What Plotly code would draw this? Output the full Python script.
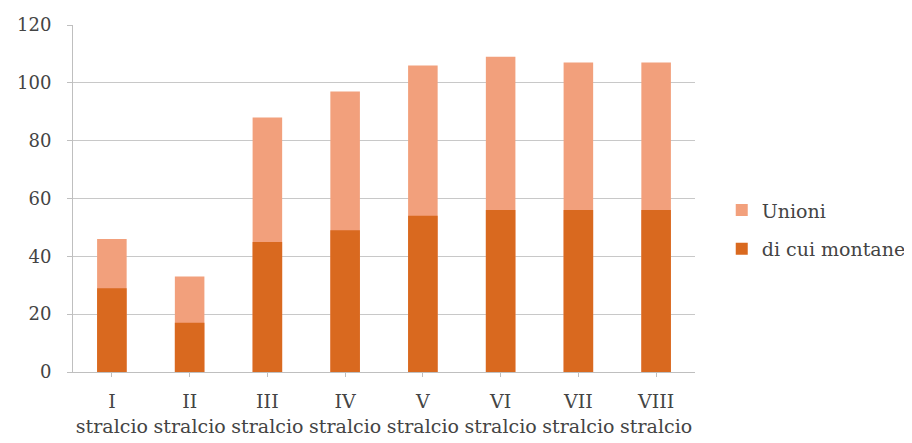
import plotly.graph_objects as go

categories = ["I<br>stralcio", "II<br>stralcio", "III<br>stralcio", "IV<br>stralcio",
              "V<br>stralcio", "VI<br>stralcio", "VII<br>stralcio", "VIII<br>stralcio"]
unioni = [46, 33, 88, 97, 106, 109, 107, 107]
montane = [29, 17, 45, 49, 54, 56, 56, 56]
y_ticks = [0, 20, 40, 60, 80, 100, 120]

SERIF = "'DejaVu Serif', 'Liberation Serif', serif"

fig = go.Figure()
fig.add_trace(go.Bar(x=categories, y=unioni, name="Unioni", legendgroup="a",
                     marker=dict(color="#F2A07C", line=dict(width=0))))
fig.add_trace(go.Bar(x=categories, y=montane, name="di cui montane", legendgroup="b",
                     marker=dict(color="#D9691F", line=dict(width=0))))

fig.update_layout(
    width=912, height=443,
    barmode="overlay", bargap=0.62,
    paper_bgcolor="white", plot_bgcolor="white",
    margin=dict(l=65, r=225, t=17, b=79, autoexpand=False),
    font=dict(family=SERIF, size=18, color="#444444"),
    legend=dict(x=1.043, y=0.41, xanchor="left", yanchor="middle",
                font=dict(family=SERIF, size=19, color="#444444"),
                tracegroupgap=11, itemwidth=30, traceorder="grouped"),
    showlegend=True,
)
fig.update_xaxes(showline=True, linecolor="#bfbfbf", linewidth=1,
                 ticks="outside", ticklen=4, tickcolor="#bfbfbf", automargin=False,
                 ticklabelstandoff=8,
                 tickfont=dict(family=SERIF, size=19, color="#444444"))
fig.update_yaxes(range=[0, 120], tickvals=y_ticks, showgrid=True,
                 gridcolor="#c8c8c8", gridwidth=1, showline=True,
                 linecolor="#bfbfbf", ticks="outside", ticklen=5, automargin=False,
                 ticklabelstandoff=12,
                 tickcolor="#bfbfbf", zeroline=False,
                 tickfont=dict(family=SERIF, size=18, color="#444444"))

fig.write_html("out.html")
